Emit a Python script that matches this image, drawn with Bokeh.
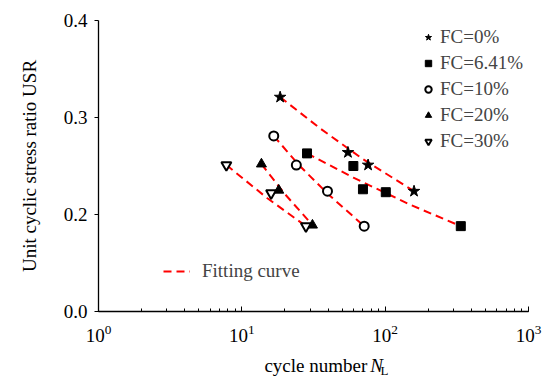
from bokeh.plotting import figure
from bokeh.layouts import column
from bokeh.models import Range1d, FixedTicker, Legend, LegendItem
from bokeh.core.properties import value
from bokeh.embed import file_html
from bokeh.resources import INLINE

# measured points: cycle number N_L and unit cyclic stress ratio USR
n_fc0 = [18.5, 55, 76, 159]
usr_fc0 = [0.321, 0.264, 0.251, 0.224]
n_fc641 = [28.5, 60, 70, 101, 337]
usr_fc641 = [0.263, 0.250, 0.226, 0.223, 0.188]
n_fc10 = [16.7, 24.0, 39.6, 71.4]
usr_fc10 = [0.281, 0.251, 0.224, 0.188]
n_fc20 = [13.7, 18.1, 31.1]
usr_fc20 = [0.252, 0.225, 0.189]
n_fc30 = [7.8, 16.0, 28.0]
usr_fc30 = [0.251, 0.222, 0.188]

# fitting curves
fit_n_fc0 = [18.5, 35, 70, 159]
fit_usr_fc0 = [0.321, 0.289, 0.257, 0.224]
fit_n_fc641 = [28.5, 60, 150, 337]
fit_usr_fc641 = [0.263, 0.238, 0.210, 0.188]
fit_n_fc10 = [16.7, 25, 40, 71.4]
fit_usr_fc10 = [0.281, 0.251, 0.221, 0.188]
fit_n_fc20 = [13.7, 20, 31.1]
fit_usr_fc20 = [0.252, 0.221, 0.189]
fit_n_fc30 = [7.8, 15, 28.0]
fit_usr_fc30 = [0.251, 0.217, 0.188]

labels = ["FC=0%", "FC=6.41%", "FC=10%", "FC=20%", "FC=30%"]
y_ticks = [0.1, 0.2, 0.3, 0.4]
y_tick_text = {0.1: "0.0", 0.2: "0.2", 0.3: "0.3", 0.4: "0.4"}

FONT = "Liberation Serif"
FS = "19px"

p = figure(width=552, height=352, x_axis_type="log",
           x_range=Range1d(1, 1000), y_range=Range1d(0.1, 0.4),
           output_backend="svg", toolbar_location=None,
           min_border_left=98, min_border_right=24,
           min_border_top=20, min_border_bottom=41)
p.outline_line_color = None
p.xgrid.visible = False
p.ygrid.visible = False
p.background_fill_color = "white"
p.border_fill_color = "white"

# axes
p.yaxis.ticker = FixedTicker(ticks=y_ticks, minor_ticks=[])
p.yaxis.major_label_overrides = y_tick_text
p.yaxis.major_tick_out = 4
p.yaxis.major_tick_in = 0
p.yaxis.minor_tick_out = 0
p.yaxis.major_label_standoff = 7
p.yaxis.axis_label = "Unit cyclic stress ratio USR"
p.yaxis.axis_label_standoff = 21

p.xaxis.major_tick_in = 5
p.xaxis.major_tick_out = 0
p.xaxis.minor_tick_in = 3
p.xaxis.minor_tick_out = 0
p.xaxis.major_label_standoff = 13

for ax in (p.xaxis, p.yaxis):
    ax.axis_line_color = "black"
    ax.axis_line_width = 1.3
    ax.major_tick_line_color = "black"
    ax.minor_tick_line_color = "black"
    ax.major_label_text_font = FONT
    ax.major_label_text_font_size = FS
    ax.major_label_text_color = "black"
    ax.axis_label_text_font = FONT
    ax.axis_label_text_font_size = FS
    ax.axis_label_text_font_style = "normal"
    ax.axis_label_text_color = "black"

RED = "#ff0000"
DASH = "8 5"
fits = [(fit_n_fc0, fit_usr_fc0), (fit_n_fc641, fit_usr_fc641), (fit_n_fc10, fit_usr_fc10),
        (fit_n_fc20, fit_usr_fc20), (fit_n_fc30, fit_usr_fc30)]
fit_renderers = []
for fx, fy in fits:
    r = p.line(fx, fy, line_color=RED, line_width=2, line_dash=DASH)
    fit_renderers.append(r)

r0 = p.scatter(n_fc0, usr_fc0, marker="star", size=12, fill_color="black", line_color="black")
r1 = p.scatter(n_fc641, usr_fc641, marker="square", size=9, fill_color="black", line_color="black")
r2 = p.scatter(n_fc10, usr_fc10, marker="circle", size=9, fill_color="white", line_color="black", line_width=2)
r3 = p.scatter(n_fc20, usr_fc20, marker="triangle", size=10, fill_color="black", line_color="black")
r4 = p.scatter(n_fc30, usr_fc30, marker="inverted_triangle", size=10, fill_color="white", line_color="black", line_width=2)

leg = Legend(items=[LegendItem(label=lab, renderers=[r]) for lab, r in zip(labels, [r0, r1, r2, r3, r4])],
             location=(322, 159), orientation="vertical",
             glyph_width=16, glyph_height=20, label_height=20, spacing=4,
             label_standoff=4, padding=0, margin=0,
             label_text_font=FONT, label_text_font_size=FS,
             background_fill_alpha=0, border_line_color=None)
p.add_layout(leg, "center")

leg2 = Legend(items=[LegendItem(label="Fitting curve", renderers=[fit_renderers[0]])],
              location=(65, 29), glyph_width=27, glyph_height=20, label_height=20,
              label_standoff=12, padding=0, margin=0,
              label_text_font=FONT, label_text_font_size=FS,
              background_fill_alpha=0, border_line_color=None)
p.add_layout(leg2, "center")

# x axis title strip: "cycle number N_L" with italic N and subscript L
t = figure(width=552, height=26, x_range=Range1d(0, 552), y_range=Range1d(0, 26),
           output_backend="svg", toolbar_location=None,
           x_axis_location=None, y_axis_location=None,
           min_border_left=0, min_border_right=0, min_border_top=0, min_border_bottom=0)
t.outline_line_color = None
t.xgrid.visible = False
t.ygrid.visible = False
t.background_fill_color = "white"
t.border_fill_color = "white"
t.text(x=[345], y=[13], text=["cycle number"], text_font=value(FONT), text_font_size=FS,
       text_align="right", text_baseline="middle", text_color="black")
t.text(x=[349], y=[13], text=["N"], text_font=value(FONT), text_font_size=FS,
       text_font_style="italic", text_align="left", text_baseline="middle", text_color="black")
t.text(x=[362], y=[8], text=["L"], text_font=value(FONT), text_font_size="13px",
       text_align="left", text_baseline="middle", text_color="black")

layout = column(p, t, spacing=0)
open("out.html", "w").write(file_html(layout, INLINE))
